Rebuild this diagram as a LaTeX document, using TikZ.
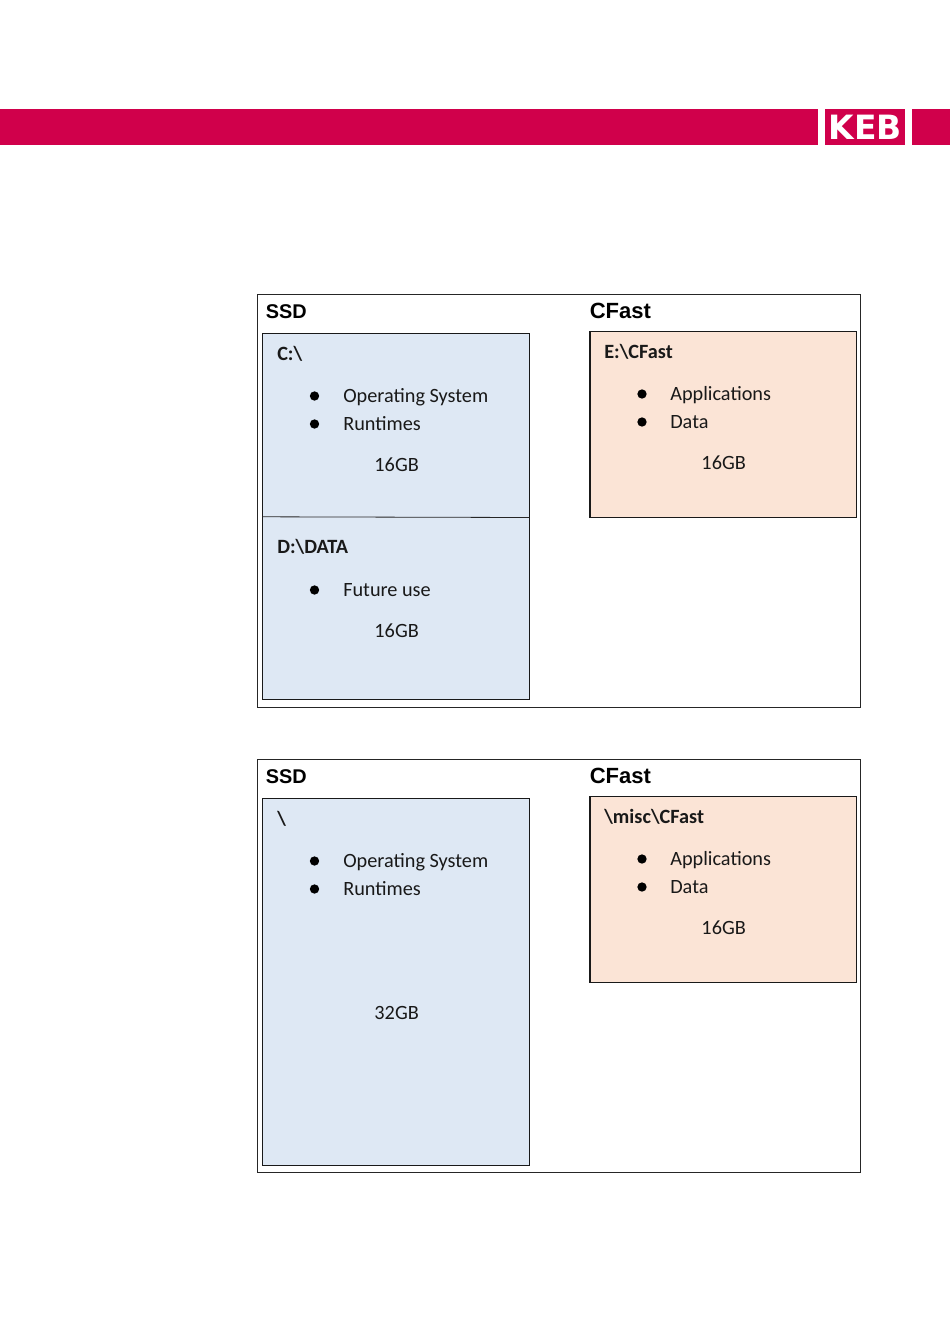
\documentclass[tikz,border=0pt]{standalone}
\usepackage{fontspec}
\setmainfont{Carlito}
\newfontfamily\arialf{Liberation Sans}
\newfontfamily\logof{DejaVu Sans Bold}
\definecolor{kebred}{HTML}{D0004B}
\definecolor{ssdblue}{HTML}{DEE8F4}
\definecolor{cfpeach}{HTML}{FBE4D6}
\tikzset{
  body/.style={anchor=base west,inner sep=0pt,font=\fontsize{15.2}{17}\selectfont,text=black!90},
  boldbody/.style={body,font=\fontsize{15.2}{17}\selectfont\bfseries},
  headsmall/.style={anchor=base west,inner sep=0pt,font=\fontsize{14.9}{16}\selectfont\arialf\bfseries},
  headbig/.style={anchor=base west,inner sep=0pt,font=\fontsize{16.5}{18}\selectfont\arialf\bfseries},
  frame/.style={draw=black!85,line width=0.6pt,fill=white},
  ssdbox/.style={draw=black!90,line width=1pt,fill=ssdblue},
  cfbox/.style={draw=black!90,line width=1pt,fill=cfpeach},
  bulletdot/.style={circle,fill=black,inner sep=0pt,minimum size=7pt},
  redbar/.style={fill=kebred,draw=none}
}
\begin{document}
\begin{tikzpicture}[x=0.75pt,y=-0.75pt]
\useasboundingbox (0,0) rectangle (950,1344);
\fill[white] (0,0) rectangle (950,1344);
% header
\fill[redbar] (0,109) rectangle (818,145);
\fill[redbar] (825,109) rectangle (905,145);
\fill[redbar] (912,109) rectangle (950,145);
\node[inner sep=0pt,text=white,anchor=center] (logo) at (865.5,127)
  {\scalebox{1.3}[1.32]{\fontsize{19}{20}\selectfont\logof KEB}};
% upper frame
\draw[frame] (257.5,294.5) rectangle (860.5,707.5);
\node[headsmall] (ssd1) at (265.7,318) {SSD};
\node[headbig] (cf1) at (589.5,318) {CFast};
\draw[ssdbox] (262.5,333.5) rectangle (529.5,699.5);
\draw[black!85,line width=0.6pt] (262.5,516.8) -- (529.5,517.5);
\node[boldbody] (c) at (277,360.4) {C:\textbackslash};
\node[bulletdot] (b1) at (314.5,396) {};
\node[body] (t1) at (343,402.4) {Operating System};
\node[bulletdot] (b2) at (314.5,424) {};
\node[body] (t2) at (343,430.4) {Runtimes};
\node[body] (g1) at (374.2,471.4) {16GB};
\node[boldbody] (d) at (277,553.4) {D:\textbackslash DATA};
\node[bulletdot] (b3) at (314.5,590) {};
\node[body] (t3) at (343,596.4) {Future use};
\node[body] (g2) at (374.2,637.4) {16GB};
\draw[cfbox] (590,331.5) rectangle (856.5,517.5);
\node[boldbody] (e) at (604,358.4) {E:\textbackslash CFast};
\node[bulletdot] (b4) at (642,394) {};
\node[body] (t4) at (670,400.4) {Applications};
\node[bulletdot] (b5) at (642,422) {};
\node[body] (t5) at (670,428.4) {Data};
\node[body] (g3) at (701.2,469.4) {16GB};
% lower frame
\draw[frame] (257.5,759.5) rectangle (860.5,1172.5);
\node[headsmall] (ssd2) at (265.7,783) {SSD};
\node[headbig] (cf2) at (589.5,783) {CFast};
\draw[ssdbox] (262.5,798.5) rectangle (529.5,1165.5);
\node[boldbody] (r) at (277,825.4) {\textbackslash};
\node[bulletdot] (b6) at (314.5,861) {};
\node[body] (t6) at (343,867.4) {Operating System};
\node[bulletdot] (b7) at (314.5,889) {};
\node[body] (t7) at (343,895.4) {Runtimes};
\node[body] (g4) at (374.2,1019.4) {32GB};
\draw[cfbox] (590,796.5) rectangle (856.5,982.5);
\node[boldbody] (m) at (604,823.4) {\textbackslash misc\textbackslash CFast};
\node[bulletdot] (b8) at (642,859) {};
\node[body] (t8) at (670,865.4) {Applications};
\node[bulletdot] (b9) at (642,887) {};
\node[body] (t9) at (670,893.4) {Data};
\node[body] (g5) at (701.2,934.4) {16GB};
\end{tikzpicture}
\end{document}
